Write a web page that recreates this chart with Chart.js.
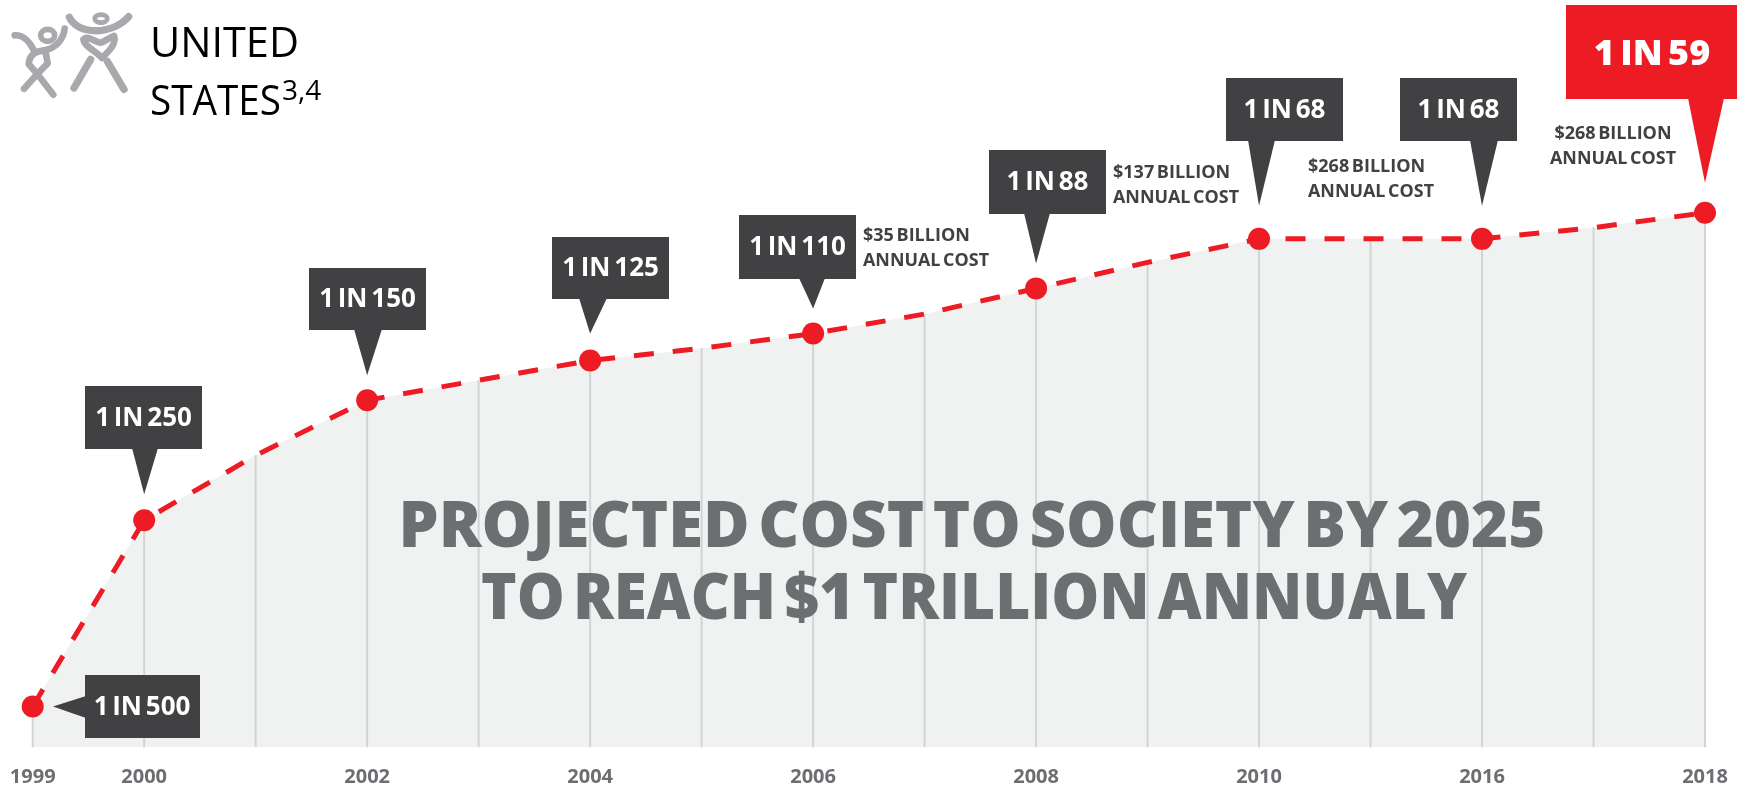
<!DOCTYPE html>
<html>
<head>
<meta charset="utf-8">
<title>United States prevalence</title>
<script src="https://cdn.jsdelivr.net/npm/chart.js@4/dist/chart.umd.min.js"></script>
<style>
  html, body { margin: 0; background: #fff; }
  #wrap { position: relative; width: 1745px; height: 785px; overflow: hidden; }
  #logo { position: absolute; left: 0; top: 0; }
</style>
</head>
<body>
<div id="wrap">
  <canvas id="chartPrevalence" width="1745" height="785"></canvas>
  <svg id="logo" width="400" height="180" viewBox="0 0 1200 540" fill="none" stroke="#a7a9ac" stroke-linecap="round" stroke-linejoin="round">
    <g stroke-width="20">
      <path d="M44 106 C72 104 88 124 102 152"/>
      <ellipse cx="143" cy="106" rx="21" ry="18" stroke-width="17"/>
      <path d="M194 86 C190 118 168 146 128 152 C100 156 88 168 86 192 L112 222 L143 190 L136 152"/>
      <path d="M112 222 L72 266"/>
      <path d="M112 222 L160 284"/>
    </g>
    <g stroke-width="20">
      <path d="M208 52 C232 104 332 108 386 50" stroke-width="22"/>
      <ellipse cx="303" cy="56" rx="19" ry="12" stroke-width="14"/>
      <path d="M342 108 C350 130 330 150 306 174 C286 150 254 142 250 118 C262 104 288 128 300 128 C312 128 326 112 342 108"/>
      <path d="M272 178 L222 264" stroke-width="22"/>
      <path d="M322 184 L372 268" stroke-width="22"/>
    </g>
  </svg>
</div>

<script>
const years = ['1999', '2000', '', '2002', '', '2004', '', '2006', '', '2008', '', '2010', '', '2016', '', '2018']
// one in N children, blank years are estimates
const oneIn = [500, 250, 191, 150, 137, 125, 118, 110, 100, 88, 77, 68, 68, 68, 64, 59]
const costLines = [
  ['$35 BILLION', 'ANNUAL COST'],
  ['$137 BILLION', 'ANNUAL COST'],
  ['$268 BILLION', 'ANNUAL COST'],
  ['$268 BILLION', 'ANNUAL COST']
]
const headline = ['PROJECTED COST TO SOCIETY BY 2025', 'TO REACH $1 TRILLION ANNUALY']

// hidden vertical axis limits, reversed so smaller N sits higher
const yTop = 16.42
const yBottom = 573.8
const yPower = 0.22

const RED = '#ed1c24'
const DARK = '#414042'
const GREY = '#6d6e71'
const FACE = '"Open Sans", sans-serif'

// linear scale that spaces values by a power of N, the curve flattens towards the top
class PowerScale extends Chart.LinearScale {
  getPixelForValue(value) {
    const lo = Math.pow(this.min, yPower)
    const hi = Math.pow(this.max, yPower)
    return this.getPixelForDecimal((Math.pow(value, yPower) - lo) / (hi - lo))
  }
}
PowerScale.id = 'power'
PowerScale.defaults = Chart.LinearScale.defaults
Chart.register(PowerScale)

// callout boxes by index into years: box rect, pointer base, gap between tip and dot
const callouts = {
  1:  { x: 85,   y: 386, w: 117, h: 63, b0: 132,  b1: 158,  gap: 26 },
  3:  { x: 309,  y: 268, w: 117, h: 62, b0: 354,  b1: 382,  gap: 25 },
  5:  { x: 552,  y: 237, w: 117, h: 62, b0: 579,  b1: 607,  gap: 27 },
  7:  { x: 739,  y: 215, w: 117, h: 64, b0: 799,  b1: 825,  gap: 25 },
  9:  { x: 989,  y: 150, w: 117, h: 64, b0: 1024, b1: 1050, gap: 25 },
  11: { x: 1226, y: 78,  w: 117, h: 63, b0: 1248, b1: 1275, gap: 33 },
  13: { x: 1400, y: 78,  w: 117, h: 63, b0: 1470, b1: 1498, gap: 33 }
}

const costSpots = [
  { x: 863,  y: 235, align: 'left' },
  { x: 1113, y: 172, align: 'left' },
  { x: 1308, y: 166, align: 'left' },
  { x: 1613, y: 133, align: 'center' }
]

const drawText = (ctx, text, x, y, font, color, align, maxWidth, wordGap) => {
  ctx.font = font
  ctx.fillStyle = color
  ctx.textAlign = align || 'center'
  ctx.textBaseline = 'alphabetic'
  ctx.wordSpacing = wordGap || '0px'
  if (maxWidth) ctx.fillText(text, x, y, maxWidth)
  else ctx.fillText(text, x, y)
  ctx.wordSpacing = '0px'
}

const annotations = {
  id: 'annotations',
  afterDatasetsDraw(chart) {
    const ctx = chart.ctx
    const xs = chart.scales.x
    const ys = chart.scales.y
    ctx.save()

    // headline over the shaded area
    drawText(ctx, headline[0], 972, 547, '800 64px ' + FACE, GREY, 'center', 1147, '-8px')
    drawText(ctx, headline[1], 974, 619, '800 64px ' + FACE, GREY, 'center', 986, '-8px')

    // dark callouts
    Object.keys(callouts).forEach(k => {
      const i = Number(k)
      const c = callouts[k]
      const px = xs.getPixelForValue(i)
      const py = ys.getPixelForValue(oneIn[i])
      ctx.fillStyle = DARK
      ctx.fillRect(c.x, c.y, c.w, c.h)
      ctx.beginPath()
      ctx.moveTo(c.b0, c.y + c.h - 1)
      ctx.lineTo(c.b1, c.y + c.h - 1)
      ctx.lineTo(px, py - c.gap)
      ctx.closePath()
      ctx.fill()
      drawText(ctx, '1 IN ' + oneIn[i], c.x + c.w / 2, c.y + c.h / 2 + 8, '700 26px ' + FACE, '#fff', 'center', 99, '-3px')
    })

    // first callout points sideways at its dot
    const firstY = ys.getPixelForValue(oneIn[0])
    ctx.fillStyle = DARK
    ctx.fillRect(85, 675, 115, 63)
    ctx.beginPath()
    ctx.moveTo(86, 696)
    ctx.lineTo(86, 718)
    ctx.lineTo(53, firstY)
    ctx.closePath()
    ctx.fill()
    drawText(ctx, '1 IN ' + oneIn[0], 142, 715, '700 26px ' + FACE, '#fff', 'center', 99, '-3px')

    // red callout for the latest year
    const last = oneIn.length - 1
    ctx.fillStyle = RED
    ctx.fillRect(1566, 5, 171, 94)
    ctx.beginPath()
    ctx.moveTo(1688, 98)
    ctx.lineTo(1724, 98)
    ctx.lineTo(xs.getPixelForValue(last), ys.getPixelForValue(oneIn[last]) - 30)
    ctx.closePath()
    ctx.fill()
    drawText(ctx, '1 IN ' + oneIn[last], 1652, 65, '800 36px ' + FACE, '#fff', 'center', 118, '-4px')

    // annual cost notes
    costLines.forEach((lines, i) => {
      const s = costSpots[i]
      lines.forEach((line, j) => {
        drawText(ctx, line, s.x, s.y + 6 + j * 25, '700 18px ' + FACE, DARK, s.align, j === 0 ? 118 : 126, '-2px')
      })
    })

    // heading, top left
    drawText(ctx, 'UNITED', 150, 57, '400 42px ' + FACE, '#000', 'left', 149)
    drawText(ctx, 'STATES', 150, 115, '400 42px ' + FACE, '#000', 'left', 131)
    drawText(ctx, '3,4', 282, 100, '400 28px ' + FACE, '#000', 'left', 42)

    ctx.restore()
  }
}

new Chart(document.getElementById('chartPrevalence'), {
  type: 'line',
  data: {
    labels: years,
    datasets: [
      {
        // dashed curve with dots on the labelled years
        data: oneIn,
        order: 1,
        borderColor: RED,
        borderWidth: 5,
        borderDash: [20, 19],
        backgroundColor: RED,
        pointBackgroundColor: RED,
        pointBorderWidth: 0,
        pointRadius: ctx => years[ctx.dataIndex] ? 11 : 0,
        tension: 0,
        fill: false,
        clip: false
      },
      {
        // thin bars stand in for the grid, they stop at the curve
        type: 'bar',
        data: oneIn,
        order: 2,
        base: yBottom,
        backgroundColor: '#d1d3d4',
        barThickness: 1.3,
        clip: false
      },
      {
        // shaded area under the curve
        data: oneIn,
        order: 3,
        borderWidth: 0,
        pointRadius: 0,
        tension: 0,
        backgroundColor: '#f0f2f1',
        fill: { value: yBottom }
      }
    ]
  },
  options: {
    responsive: false,
    animation: false,
    events: [],
    layout: { padding: { left: 32.7, right: 40, top: 0, bottom: 0 } },
    plugins: {
      legend: { display: false },
      tooltip: { enabled: false }
    },
    scales: {
      x: {
        offset: false,
        afterFit: scale => {
          scale.height = 38
          scale.paddingLeft = 0
          scale.paddingRight = 0
        },
        grid: { display: false, drawTicks: false },
        border: { display: false },
        ticks: {
          autoSkip: false,
          maxRotation: 0,
          padding: 18,
          color: GREY,
          font: { family: FACE, size: 20, weight: '700' }
        }
      },
      y: {
        type: 'power',
        reverse: true,
        min: yTop,
        max: yBottom,
        display: false
      }
    }
  },
  plugins: [annotations]
})
</script>
</body>
</html>
